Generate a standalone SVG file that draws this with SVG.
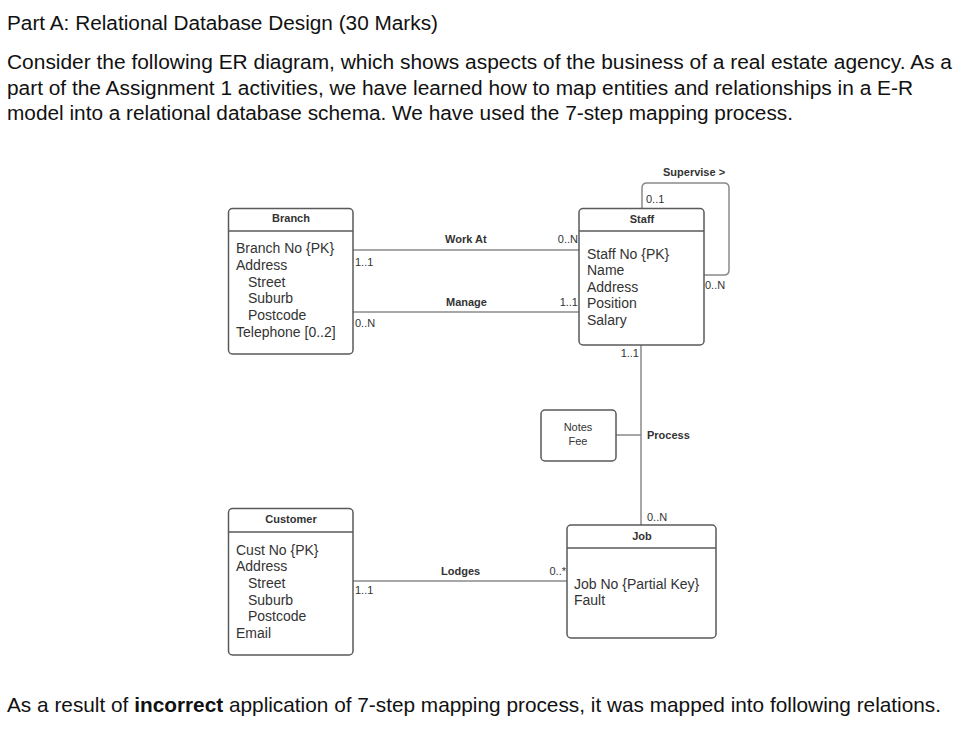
<svg xmlns="http://www.w3.org/2000/svg" width="977" height="736" viewBox="0 0 977 736">
<style>
.main{font-family:"Liberation Sans",Arial,sans-serif;font-size:20px;fill:#111}
.box{fill:#fff;stroke:#5a5a5a;stroke-width:1.5}
.sep{stroke:#5a5a5a;stroke-width:1.5}
.hdr{font-family:"Liberation Sans",Arial,sans-serif;font-size:11px;font-weight:bold;fill:#333;text-anchor:middle}
.att{font-family:"Liberation Sans",Arial,sans-serif;font-size:14px;fill:#333}
.lbl{font-family:"Liberation Sans",Arial,sans-serif;font-size:11px;font-weight:bold;fill:#333}
.card{font-family:"Liberation Sans",Arial,sans-serif;font-size:11px;fill:#333}
.end{text-anchor:end}
.mid{text-anchor:middle}
.con{fill:none;stroke:#8a8a8a;stroke-width:1.5}
</style>
<rect width="977" height="736" fill="#fff"/>
<text class="main" x="7" y="30" textLength="431" lengthAdjust="spacingAndGlyphs">Part A: Relational Database Design (30 Marks)</text>
<text class="main" x="7" y="69" textLength="945" lengthAdjust="spacingAndGlyphs">Consider the following ER diagram, which shows aspects of the business of a real estate agency. As a</text>
<text class="main" x="7" y="95" textLength="906" lengthAdjust="spacingAndGlyphs">part of the Assignment 1 activities, we have learned how to map entities and relationships in a E-R</text>
<text class="main" x="7" y="120" textLength="786" lengthAdjust="spacingAndGlyphs">model into a relational database schema. We have used the 7-step mapping process.</text>
<text class="main" x="7" y="712" style="font-size:20.8px">As a result of <tspan font-weight="bold">incorrect</tspan> application of 7-step mapping process, it was mapped into following relations.</text>

<g id="connectors">
<line class="con" x1="353" y1="250" x2="579" y2="250"/>
<line class="con" x1="353" y1="312" x2="579" y2="312"/>
<path class="con" d="M642,208 V188 Q642,183 647,183 H724 Q729,183 729,188 V270 Q729,275 724,275 H704"/>
<line class="con" x1="641" y1="345" x2="641" y2="525"/>
<line class="con" x1="616" y1="435" x2="641" y2="435"/>
<line class="con" x1="353" y1="581" x2="567" y2="581"/>
<text class="lbl" x="445" y="243">Work At</text>
<text class="card end" x="578" y="243">0..N</text>
<text class="card" x="355" y="266">1..1</text>
<text class="lbl" x="446" y="306">Manage</text>
<text class="card end" x="578" y="306">1..1</text>
<text class="card" x="355" y="327">0..N</text>
<text class="lbl" x="663" y="176">Supervise &gt;</text>
<text class="card" x="646" y="203">0..1</text>
<text class="card" x="705" y="289">0..N</text>
<text class="card end" x="639" y="357">1..1</text>
<text class="lbl" x="647" y="439">Process</text>
<text class="card" x="647" y="521">0..N</text>
<text class="lbl" x="441" y="575">Lodges</text>
<text class="card end" x="566" y="575">0..*</text>
<text class="card" x="355" y="594">1..1</text>
</g>

<g id="branch">
<rect class="box" x="228.5" y="208.5" width="124.5" height="145.5" rx="4"/>
<line class="sep" x1="228.5" y1="231" x2="353" y2="231"/>
<text class="hdr" x="291" y="222">Branch</text>
<text class="att" x="236" y="253">Branch No {PK}</text>
<text class="att" x="236" y="270">Address</text>
<text class="att" x="248" y="287">Street</text>
<text class="att" x="248" y="303">Suburb</text>
<text class="att" x="248" y="320">Postcode</text>
<text class="att" x="236" y="337">Telephone [0..2]</text>
</g>

<g id="staff">
<rect class="box" x="579" y="208.5" width="125" height="136.5" rx="4"/>
<line class="sep" x1="579" y1="231" x2="704" y2="231"/>
<text class="hdr" x="642" y="223">Staff</text>
<text class="att" x="587" y="259">Staff No {PK}</text>
<text class="att" x="587" y="275">Name</text>
<text class="att" x="587" y="292">Address</text>
<text class="att" x="587" y="308">Position</text>
<text class="att" x="587" y="325">Salary</text>
</g>

<g id="notes">
<rect class="box" x="541" y="410" width="75" height="51" rx="4"/>
<text class="card mid" x="578" y="431">Notes</text>
<text class="card mid" x="578" y="445">Fee</text>
</g>

<g id="customer">
<rect class="box" x="228.5" y="508.5" width="124.5" height="146.5" rx="4"/>
<line class="sep" x1="228.5" y1="532" x2="353" y2="532"/>
<text class="hdr" x="291" y="523">Customer</text>
<text class="att" x="236" y="555">Cust No {PK}</text>
<text class="att" x="236" y="571">Address</text>
<text class="att" x="248" y="588">Street</text>
<text class="att" x="248" y="605">Suburb</text>
<text class="att" x="248" y="621">Postcode</text>
<text class="att" x="236" y="638">Email</text>
</g>

<g id="job">
<rect class="box" x="567" y="525" width="149" height="113" rx="4"/>
<line class="sep" x1="567" y1="548" x2="716" y2="548"/>
<text class="hdr" x="642" y="540">Job</text>
<text class="att" x="574" y="589">Job No {Partial Key}</text>
<text class="att" x="574" y="605">Fault</text>
</g>
</svg>
